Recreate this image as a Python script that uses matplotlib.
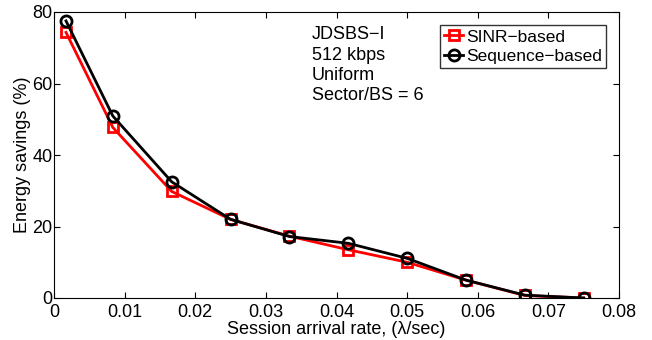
import numpy as np
import matplotlib.pyplot as plt

plt.rcParams['font.family'] = ['Liberation Sans', 'DejaVu Sans']

# session arrival rate (lambda/sec)
rate = [0.0017, 1/120, 2/120, 3/120, 4/120, 5/120, 6/120, 7/120, 8/120, 9/120]
sinr_based = [74.3, 47.7, 29.8, 22.0, 17.3, 13.5, 10.0, 5.0, 0.7, 0.0]
seq_based = [77.5, 50.9, 32.5, 22.0, 17.2, 15.3, 11.1, 5.0, 0.8, 0.0]

fig = plt.figure(figsize=(6.52, 3.40), dpi=100)
ax = fig.add_axes([54/652, 42/340, 565/652, 286/340])

ax.plot(rate, sinr_based, color='r', lw=2, marker='s', ms=6.5, mfc='none',
        mew=2, label='SINR\u2212based')
ax.plot(rate, seq_based, color='k', lw=2, marker='o', ms=8, mfc='none',
        mew=2, label='Sequence\u2212based')

ax.set_xlim(0, 0.08)
ax.set_ylim(0, 80)
ax.set_xticks(np.arange(0, 0.081, 0.01))
ax.set_xticklabels(['0', '0.01', '0.02', '0.03', '0.04', '0.05', '0.06', '0.07', '0.08'])
ax.set_yticks([0, 20, 40, 60, 80])
ax.tick_params(direction='in', top=True, right=True, labelsize=13, length=4)
ax.tick_params(axis='x', pad=4)
ax.tick_params(axis='y', pad=1)
ax.set_xlabel('Session arrival rate, (\u03bb/sec)', fontsize=13, labelpad=0)
ax.set_ylabel('Energy savings (%)', fontsize=13, labelpad=1)

ax.text(0.0365, 76, 'JDSBS\u2212I\n512 kbps\nUniform\nSector/BS = 6',
        fontsize=13, va='top', ha='left', linespacing=1.25)

leg = ax.legend(loc='upper right', fontsize=12.5, frameon=True, fancybox=False,
                edgecolor='k', handlelength=1.1, handletextpad=0.15,
                borderpad=0.25, labelspacing=0.25, borderaxespad=0.75)
leg.get_frame().set_linewidth(1)

fig.savefig('out.png', dpi=100)
